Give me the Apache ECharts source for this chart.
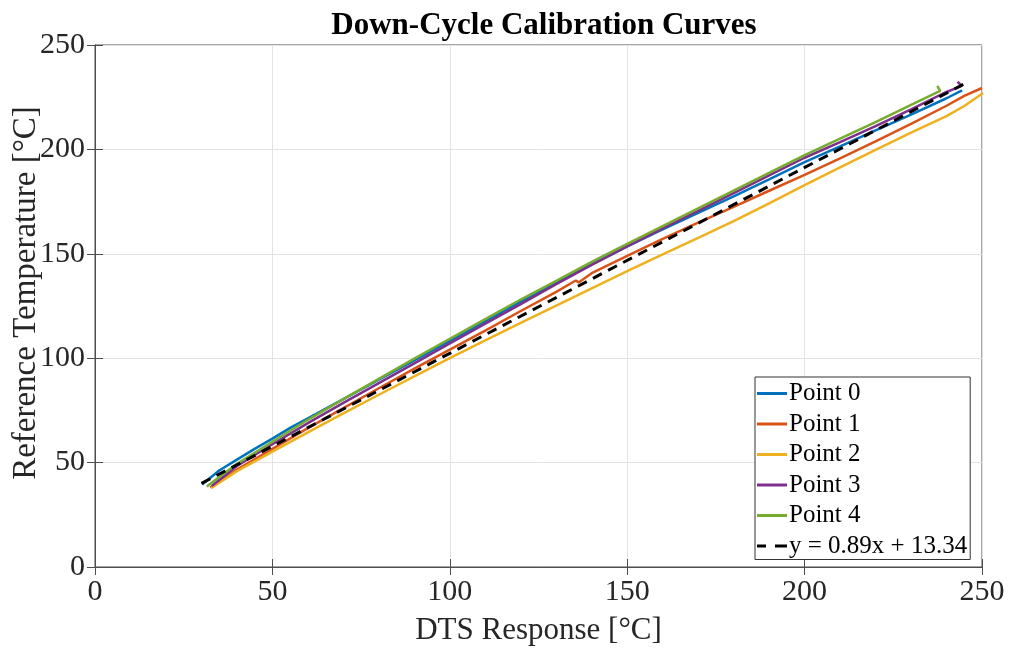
<!DOCTYPE html>
<html>
<head>
<meta charset="utf-8">
<script src="https://cdn.jsdelivr.net/npm/echarts@6/dist/echarts.min.js"></script>
<style>html,body{margin:0;padding:0;background:#fff;}#c{width:1009px;height:648px;}</style>
</head>
<body>
<div id="c"></div>
<script>
// ---- data ----
const titleText = 'Down-Cycle Calibration Curves';
const xName = 'DTS Response [°C]';
const yName = 'Reference Temperature [°C]';
const seriesNames = ['Point 0', 'Point 1', 'Point 2', 'Point 3', 'Point 4', 'y = 0.89x + 13.34'];

const point0 = [[30.2,39.5],[35,46.2],[40,51.4],[45,56.6],[50,61.5],[55,66.6],[60,71.2],[70,80.4],[80,89.7],[90,99.0],[100,108.3],[110,117.7],[120,127.1],[130,136.2],[140,144.9],[150,153.6],[160,161.7],[170,169.6],[180,177.5],[190,185.7],[200,193.9],[210,201.4],[220,209.1],[230,216.7],[240,224.5],[244.4,228.3]];
const point1 = [[32.5,38.0],[40,46.7],[50,56.6],[60,66.5],[70,76.1],[80,85.6],[90,95.0],[100,104.1],[110,113.2],[120,122.6],[130,131.8],[135.5,137.2],[136.3,136.3],[140,140.7],[150,149.0],[160,157.1],[170,164.9],[180,172.5],[190,180.2],[200,187.8],[210,195.7],[220,203.8],[230,212.2],[240,220.9],[245,225.6],[250,229.4]];
const point2 = [[32.8,37.8],[40,45.9],[50,55.3],[60,64.5],[70,73.6],[80,82.5],[90,91.3],[100,100.0],[110,108.5],[120,116.9],[130,125.2],[140,133.4],[150,141.7],[160,149.7],[170,157.6],[180,165.7],[190,174.1],[200,182.9],[210,191.4],[220,199.8],[230,208.0],[240,215.9],[245,220.8],[250.3,227.0]];
const point3 = [[32.9,38.8],[40,48.4],[50,58.8],[60,68.9],[70,78.6],[80,88.1],[90,97.5],[100,107.1],[110,116.6],[120,125.9],[130,135.5],[140,144.7],[150,153.6],[160,162.2],[170,170.6],[180,179.1],[190,187.6],[200,196.0],[210,203.5],[220,211.1],[230,219.2],[240,227.5],[244.3,230.4],[243.1,232.4]];
const point4 = [[31.5,38.6],[40,49.4],[50,60.0],[60,70.5],[70,80.4],[80,90.1],[90,99.8],[100,109.3],[110,118.7],[120,128.1],[130,137.0],[140,146.1],[150,154.8],[160,163.3],[170,171.8],[180,180.3],[190,188.8],[200,197.3],[210,205.2],[220,213.1],[230,221.3],[238.2,228.0],[237.4,230.4]];
const fitLine = [[30,40.04],[245,231.39]];

const xTicks = [0, 50, 100, 150, 200, 250];
const yTicks = [0, 50, 100, 150, 200, 250];

const colors = ['#0072BD', '#D95319', '#EDB120', '#7E2F8E', '#77AC30', '#000000'];

const font = 'Liberation Serif, Times New Roman, serif';
const chart = echarts.init(document.getElementById('c'), null, {renderer: 'canvas'});

function lineSeries(name, data, color, extra) {
  return Object.assign({
    name: name, type: 'line', data: data, symbol: 'none', smooth: false,
    lineStyle: {color: color, width: 2.5}, itemStyle: {color: color},
    emphasis: {disabled: true}, animation: false, z: 3
  }, extra || {});
}

const solidIcon = 'path://M0,0h30v3h-30z';
const dashIcon = 'path://M0,0h9v3h-9z M18,0h12v3h-12z';

chart.setOption({
  animation: false,
  backgroundColor: '#ffffff',
  title: {
    text: titleText, left: 539, top: 5, textAlign: 'center',
    textStyle: {fontFamily: font, fontSize: 31, fontWeight: 'bold', color: '#000'}
  },
  grid: {left: 95, right: 27, top: 45, bottom: 81, containLabel: false, outerBoundsMode: 'none',
         show: true, borderColor: '#4d4d4d', borderWidth: 1, backgroundColor: '#fff'},
  legend: {
    orient: 'vertical', left: 755, top: 377,
    backgroundColor: '#fff', borderColor: '#333', borderWidth: 1,
    padding: [4, 3, 1, 2], itemGap: 5.5, itemWidth: 30, itemHeight: 3,
    textStyle: {fontFamily: font, fontSize: 25, color: '#000', lineHeight: 25, padding: [0, 0, 0, -3]},
    data: seriesNames.map((n, i) => ({name: n, icon: i === 5 ? dashIcon : solidIcon}))
  },
  xAxis: [{
    type: 'value', min: 0, max: 250, interval: 50,
    name: xName, nameLocation: 'middle', nameGap: 48, nameMoveOverlap: false,
    nameTextStyle: {fontFamily: font, fontSize: 31, color: '#262626'},
    axisLine: {show: true, onZero: false, lineStyle: {color: '#4d4d4d'}},
    axisTick: {show: true, inside: true, length: 8, lineStyle: {color: '#4d4d4d'}},
    axisLabel: {fontFamily: font, fontSize: 30, color: '#262626', margin: 10},
    splitLine: {show: true, lineStyle: {color: '#e3e3e3', width: 1}}
  }, {
    type: 'value', position: 'top', min: 0, max: 250, interval: 50,
    axisLine: {show: true, lineStyle: {color: '#4d4d4d'}},
    axisTick: {show: true, inside: true, length: 8, lineStyle: {color: '#4d4d4d'}},
    axisLabel: {show: false}, splitLine: {show: false}
  }],
  yAxis: [{
    type: 'value', min: 0, max: 250, interval: 50,
    name: yName, nameLocation: 'middle', nameGap: 52, nameRotate: 90, nameMoveOverlap: false,
    nameTextStyle: {fontFamily: font, fontSize: 33, color: '#262626', padding: [0, 0, 0, 26]},
    axisLine: {show: true, onZero: false, lineStyle: {color: '#4d4d4d'}},
    axisTick: {show: true, inside: true, length: 8, lineStyle: {color: '#4d4d4d'}},
    axisLabel: {fontFamily: font, fontSize: 30, color: '#262626', margin: 10},
    splitLine: {show: true, lineStyle: {color: '#e3e3e3', width: 1}}
  }, {
    type: 'value', position: 'right', min: 0, max: 250, interval: 50,
    axisLine: {show: true, lineStyle: {color: '#4d4d4d'}},
    axisTick: {show: true, inside: true, length: 8, lineStyle: {color: '#4d4d4d'}},
    axisLabel: {show: false}, splitLine: {show: false}
  }],
  series: [
    lineSeries(seriesNames[0], point0, colors[0]),
    lineSeries(seriesNames[1], point1, colors[1]),
    lineSeries(seriesNames[2], point2, colors[2]),
    lineSeries(seriesNames[3], point3, colors[3]),
    lineSeries(seriesNames[4], point4, colors[4]),
    lineSeries(seriesNames[5], fitLine, colors[5], {
      lineStyle: {color: '#000', width: 3, type: [10, 7]}, z: 4
    })
  ]
});
</script>
</body>
</html>
